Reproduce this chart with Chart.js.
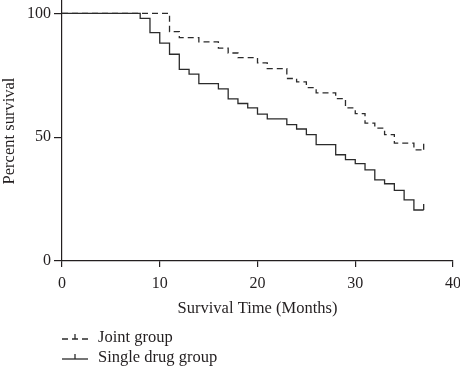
<!DOCTYPE html>
<html>
<head>
<meta charset="utf-8">
<script src="https://cdn.jsdelivr.net/npm/chart.js@4"></script>
<style>
  html, body { margin: 0; padding: 0; background: #fff; }
  #wrap { width: 460px; height: 366px; position: relative; }
</style>
</head>
<body>
<div id="wrap"><canvas id="survivalChart"></canvas></div>
<script>
// Kaplan-Meier curves (months, % survival)
const jointTimes = [0, 11, 12, 14, 16, 17, 18, 20, 21, 23, 24, 25, 26, 28, 29, 30, 31, 32, 33, 34, 36, 37];
const jointSurvival = [100, 92.6, 90.2, 88.5, 86.0, 84.0, 82.1, 80.0, 77.7, 73.7, 72.3, 70.0, 67.9, 65.6, 61.8, 59.5, 55.7, 53.7, 51.0, 47.6, 44.9, 44.9];
const singleTimes = [0, 8, 9, 10, 11, 12, 13, 14, 16, 17, 18, 19, 20, 21, 23, 24, 25, 26, 28, 29, 30, 31, 32, 33, 34, 35, 36, 37];
const singleSurvival = [100, 98.0, 92.2, 88.0, 83.5, 77.4, 75.5, 71.6, 69.5, 65.5, 63.6, 61.8, 59.3, 57.4, 55.1, 53.3, 51.0, 47.0, 42.9, 40.9, 39.3, 36.8, 32.8, 31.2, 28.5, 24.7, 20.6, 20.6];
const seriesLabels = ['Joint group', 'Single drug group'];
const xTickValues = [0, 10, 20, 30, 40];
const yTickValues = [0, 50, 100];

const ink = '#231f20';
const lineInk = '#2b2b2b';
const serif = "'Liberation Serif', 'DejaVu Serif', serif";

Chart.defaults.font.family = serif;
Chart.defaults.font.size = 16;
Chart.defaults.color = ink;

function toPoints(times, values) {
    return times.map((t, i) => ({ x: t, y: values[i] }));
}

// censored tick only on the last observation
function censorRadius(ctx) {
    return ctx.dataIndex === ctx.dataset.data.length - 1 ? 6 : 0;
}

// legend drawn under the axes, one row per group
const kmLegend = {
    id: 'kmLegend',
    afterDraw(chart) {
        const ctx = chart.ctx;
        const x0 = chart.chartArea.left;
        chart.data.datasets.forEach((ds, i) => {
            const yLine = chart.chartArea.bottom + 78 + i * 20;
            ctx.save();
            ctx.strokeStyle = lineInk;
            ctx.lineWidth = 1.3;
            ctx.setLineDash(ds.borderDash || []);
            ctx.beginPath();
            ctx.moveTo(x0, yLine);
            ctx.lineTo(x0 + 26, yLine);
            ctx.stroke();
            ctx.setLineDash([]);
            ctx.beginPath();
            ctx.moveTo(x0 + 13, yLine);
            ctx.lineTo(x0 + 13, yLine - 5);
            ctx.stroke();
            ctx.fillStyle = ink;
            ctx.font = '16.5px ' + serif;
            ctx.textBaseline = 'alphabetic';
            ctx.textAlign = 'left';
            ctx.fillText(ds.label, x0 + 36, yLine + 2.5);
            ctx.restore();
        });
    }
};

const ctx = document.getElementById('survivalChart').getContext('2d');
new Chart(ctx, {
    type: 'line',
    data: {
        datasets: [
            {
                label: seriesLabels[0],
                data: toPoints(jointTimes, jointSurvival),
                borderColor: lineInk,
                borderWidth: 1.3,
                borderDash: [6, 4],
                stepped: true,
                fill: false,
                pointStyle: 'dash',
                rotation: 270,
                pointRadius: censorRadius,
                pointBorderWidth: 1.3,
                pointBorderColor: lineInk
            },
            {
                label: seriesLabels[1],
                data: toPoints(singleTimes, singleSurvival),
                borderColor: lineInk,
                borderWidth: 1.3,
                stepped: true,
                fill: false,
                pointStyle: 'dash',
                rotation: 270,
                pointRadius: censorRadius,
                pointBorderWidth: 1.3,
                pointBorderColor: lineInk
            }
        ]
    },
    options: {
        responsive: true,
        maintainAspectRatio: false,
        animation: false,
        events: [],
        layout: {
            autoPadding: false,
            padding: { top: 1, right: 7, bottom: 47, left: 0 }
        },
        plugins: {
            legend: { display: false },
            tooltip: { enabled: false }
        },
        scales: {
            x: {
                type: 'linear',
                min: 0,
                max: 40,
                afterBuildTicks: scale => { scale.ticks = xTickValues.map(v => ({ value: v })); },
                afterFit: scale => {
                    scale.height = 58;
                    scale.paddingLeft = 0;
                    scale.paddingRight = 0;
                },
                border: { display: true, color: ink, width: 1.2 },
                grid: { drawOnChartArea: false, drawTicks: true, tickLength: 6, color: ink, lineWidth: 1.2 },
                ticks: { padding: 7, maxRotation: 0, color: ink },
                title: {
                    display: true,
                    text: 'Survival Time (Months)',
                    color: ink,
                    font: { size: 16.5 },
                    padding: { top: 10, bottom: 0 }
                }
            },
            y: {
                type: 'linear',
                min: 0,
                max: 105,
                afterBuildTicks: scale => { scale.ticks = yTickValues.map(v => ({ value: v })); },
                afterFit: scale => {
                    scale.width = 62;
                    scale.paddingTop = 0;
                    scale.paddingBottom = 0;
                },
                border: { display: true, color: ink, width: 1.2 },
                grid: { drawOnChartArea: false, drawTicks: true, tickLength: 8, color: ink, lineWidth: 1.2 },
                ticks: { padding: 3, color: ink },
                title: {
                    display: true,
                    text: 'Percent survival',
                    color: ink,
                    font: { size: 16.5 },
                    padding: { top: 0, bottom: 0 }
                }
            }
        }
    },
    plugins: [kmLegend]
});
</script>
</body>
</html>
